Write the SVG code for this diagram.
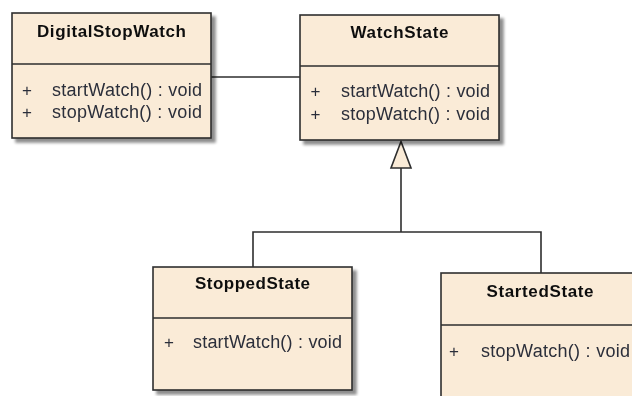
<svg xmlns="http://www.w3.org/2000/svg" width="632" height="396" viewBox="0 0 632 396">
  <defs>
    <filter id="shadow" x="-10%" y="-10%" width="130%" height="130%">
      <feGaussianBlur in="SourceAlpha" stdDeviation="1.5"/>
      <feOffset dx="3.5" dy="3.5" result="off"/>
      <feComponentTransfer><feFuncA type="linear" slope="0.45"/></feComponentTransfer>
      <feMerge><feMergeNode/><feMergeNode in="SourceGraphic"/></feMerge>
    </filter>
  </defs>
  <style>
    .box { fill: #faebd7; stroke: #2e2e2e; stroke-width: 1.6; }
    .div { stroke: #2e2e2e; stroke-width: 1.6; }
    .title { font-family: "Liberation Sans", Arial, sans-serif; font-weight: bold; font-size: 17px; fill: #111; text-anchor: middle; }
    .op { font-family: "Liberation Sans", Arial, sans-serif; font-size: 18px; fill: #2c2f3a; }
    .plus { font-family: "Liberation Sans", Arial, sans-serif; font-size: 17px; fill: #2c2f3a; text-anchor: middle; }
    .edge { fill: none; stroke: #2e2e2e; stroke-width: 1.6; }
    .head { fill: #faebd7; stroke: #2e2e2e; stroke-width: 1.6; stroke-linejoin: miter; }
  </style>

  <g id="connectors">
    <line class="edge" x1="211" y1="77" x2="300" y2="77"/>
    <polyline class="edge" points="401,168 401,232"/>
    <polyline class="edge" points="253,267 253,232 541,232 541,273"/>
    <polygon class="head" points="401,141.5 391,168 411,168"/>
  </g>

  <g id="DigitalStopWatch" filter="url(#shadow)">
    <rect class="box" x="12" y="13" width="199" height="125"/>
    <line class="div" x1="12" y1="64" x2="211" y2="64"/>
    <text class="title" x="111.5" y="37" textLength="149" lengthAdjust="spacing">DigitalStopWatch</text>
    <text class="plus" x="27" y="96">+</text>
    <text class="op" x="52" y="96" textLength="150" lengthAdjust="spacing">startWatch() : void</text>
    <text class="plus" x="27" y="118">+</text>
    <text class="op" x="52" y="118" textLength="150" lengthAdjust="spacing">stopWatch() : void</text>
  </g>

  <g id="WatchState" filter="url(#shadow)">
    <rect class="box" x="300" y="15" width="199" height="125"/>
    <line class="div" x1="300" y1="66" x2="499" y2="66"/>
    <text class="title" x="399.5" y="38" textLength="98" lengthAdjust="spacing">WatchState</text>
    <text class="plus" x="315.5" y="97">+</text>
    <text class="op" x="341" y="97" textLength="149" lengthAdjust="spacing">startWatch() : void</text>
    <text class="plus" x="315.5" y="120">+</text>
    <text class="op" x="341" y="120" textLength="149" lengthAdjust="spacing">stopWatch() : void</text>
  </g>

  <g id="StoppedState" filter="url(#shadow)">
    <rect class="box" x="153" y="267" width="199" height="123"/>
    <line class="div" x1="153" y1="318" x2="352" y2="318"/>
    <text class="title" x="252.5" y="289" textLength="115" lengthAdjust="spacing">StoppedState</text>
    <text class="plus" x="169" y="348">+</text>
    <text class="op" x="193" y="348" textLength="149" lengthAdjust="spacing">startWatch() : void</text>
  </g>

  <g id="StartedState" filter="url(#shadow)">
    <rect class="box" x="441" y="273" width="200" height="140"/>
    <line class="div" x1="441" y1="325" x2="641" y2="325"/>
    <text class="title" x="540" y="297" textLength="107" lengthAdjust="spacing">StartedState</text>
    <text class="plus" x="454" y="357">+</text>
    <text class="op" x="481" y="357" textLength="149" lengthAdjust="spacing">stopWatch() : void</text>
  </g>
</svg>
